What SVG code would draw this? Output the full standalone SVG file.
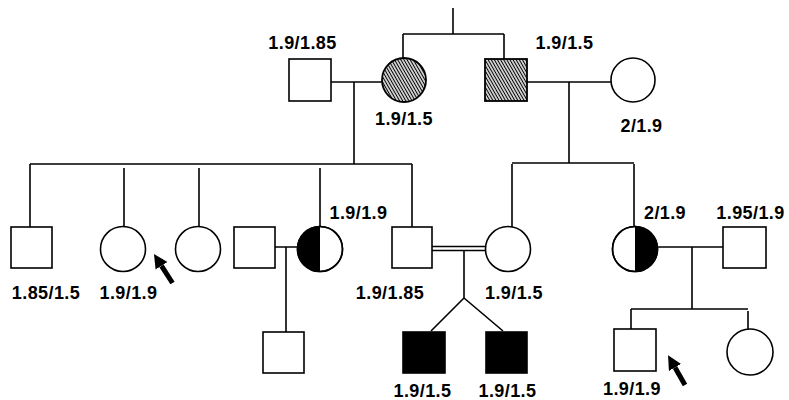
<svg xmlns="http://www.w3.org/2000/svg" width="789" height="400" viewBox="0 0 789 400">
  <style>
    .ln { stroke: #000; stroke-width: 1.6; fill: none; }
    .nd { fill: #fff; stroke: #000; stroke-width: 1.6; }
    .aff { fill: #000; stroke: #000; stroke-width: 1.6; }
    .hat { fill: url(#hatch); stroke: #000; stroke-width: 1.8; }
    .half { fill: #000; stroke: none; }
    .lbl { font-family: "Liberation Sans", Arial, sans-serif; font-weight: bold; font-size: 18px; fill: #000; text-anchor: middle; letter-spacing: 0.4px; }
    .arr { stroke: #000; stroke-width: 5; fill: none; marker-end: url(#ah); }
  </style>
  <defs>
    <pattern id="hatch" patternUnits="userSpaceOnUse" width="6" height="2.7" patternTransform="rotate(60)">
      <rect width="6" height="2.7" fill="#fff"/>
      <line x1="0" y1="1.35" x2="6" y2="1.35" stroke="#000" stroke-width="1.25"/>
    </pattern>
    <marker id="ah" markerUnits="userSpaceOnUse" markerWidth="15" markerHeight="16" viewBox="0 -8 15 16" refX="0" refY="0" orient="auto">
      <path d="M0,-7 L14,0 L0,7 Z" fill="#000"/>
    </marker>
  </defs>
  <rect width="789" height="400" fill="#fff"/>

  <!-- connectors -->
  <g id="connectors">
    <!-- generation I -->
    <path class="ln" d="M453,8 V34 M403,34 H504 M403,34 V58 M504,34 V59"/>
    <path class="ln" d="M331,82 H382 M354,82 V164"/>
    <path class="ln" d="M527,82 H611 M569,82 V163"/>
    <!-- generation II sibship, left -->
    <path class="ln" d="M30,164 H412 M30,164 V227 M412,164 V227 M124,168 V227 M199,168 V227 M320,168 V227"/>
    <!-- generation II sibship, right -->
    <path class="ln" d="M512,163 H634 M512,164 V227 M634,164 V227"/>
    <!-- couples and offspring -->
    <path class="ln" d="M275,247 H298 M286,247 V332"/>
    <path class="ln" d="M432,246.5 H486 M432,250.5 H486 M464,250.5 V298 L431,331 M464,298 L503,331"/>
    <path class="ln" d="M658,247 H723 M692,247 V309 M631,309 H748 M631,309 V329 M748,311 V329"/>
  </g>

  <!-- generation I -->
  <g id="gI-father-left"><rect class="nd" x="289" y="59" width="42" height="42"/></g>
  <g id="gI-mother-left"><circle class="hat" cx="404" cy="80" r="22"/></g>
  <g id="gI-father-right"><rect class="hat" x="485" y="59" width="42" height="42"/></g>
  <g id="gI-mother-right"><circle class="nd" cx="633" cy="80" r="22"/></g>

  <!-- generation II -->
  <g id="gII-son-1"><rect class="nd" x="11" y="227" width="41" height="41"/></g>
  <g id="gII-daughter-1"><circle class="nd" cx="123" cy="249" r="22.5"/></g>
  <g id="gII-daughter-2"><circle class="nd" cx="198" cy="249" r="22.5"/></g>
  <g id="gII-spouse-1"><rect class="nd" x="234" y="227" width="41" height="41"/></g>
  <g id="gII-daughter-3">
    <circle class="nd" cx="320" cy="249" r="22.5"/>
    <path class="half" d="M320,226.5 A22.5,22.5 0 0,0 320,271.5 Z"/>
    <circle class="ln" cx="320" cy="249" r="22.5"/>
  </g>
  <g id="gII-son-2"><rect class="nd" x="392" y="227" width="40" height="41"/></g>
  <g id="gII-cousin-wife"><circle class="nd" cx="508" cy="249" r="22.5"/></g>
  <g id="gII-cousin-daughter">
    <circle class="nd" cx="635" cy="249" r="22.5"/>
    <path class="half" d="M635,226.5 A22.5,22.5 0 0,1 635,271.5 Z"/>
    <circle class="ln" cx="635" cy="249" r="22.5"/>
  </g>
  <g id="gII-spouse-2"><rect class="nd" x="723" y="227" width="43" height="41"/></g>

  <!-- generation III -->
  <g id="gIII-son-a"><rect class="nd" x="263" y="332" width="41" height="41"/></g>
  <g id="gIII-twin-1"><rect class="aff" x="403" y="332" width="42" height="41"/></g>
  <g id="gIII-twin-2"><rect class="aff" x="486" y="332" width="41" height="41"/></g>
  <g id="gIII-son-b"><rect class="nd" x="614" y="329" width="42" height="42"/></g>
  <g id="gIII-daughter-b"><circle class="nd" cx="750" cy="352" r="23"/></g>

  <!-- proband arrows -->
  <g id="arrows">
    <line class="arr" x1="172.5" y1="283" x2="161.5" y2="265.8"/>
    <line class="arr" x1="685" y1="385" x2="675" y2="367.5"/>
  </g>

  <!-- genotype labels -->
  <g id="labels">
    <text class="lbl" x="302.5" y="48.5">1.9/1.85</text>
    <text class="lbl" x="404" y="124.5">1.9/1.5</text>
    <text class="lbl" x="564.5" y="48.5">1.9/1.5</text>
    <text class="lbl" x="641.5" y="131.5">2/1.9</text>
    <text class="lbl" x="358.5" y="218.5">1.9/1.9</text>
    <text class="lbl" x="665" y="218.5">2/1.9</text>
    <text class="lbl" x="750.5" y="218.5">1.95/1.9</text>
    <text class="lbl" x="46" y="298.5">1.85/1.5</text>
    <text class="lbl" x="128.5" y="298.5">1.9/1.9</text>
    <text class="lbl" x="390" y="298.5">1.9/1.85</text>
    <text class="lbl" x="514" y="298.5">1.9/1.5</text>
    <text class="lbl" x="422.5" y="396.5">1.9/1.5</text>
    <text class="lbl" x="507.5" y="396.5">1.9/1.5</text>
    <text class="lbl" x="632" y="394.5">1.9/1.9</text>
  </g>
</svg>
